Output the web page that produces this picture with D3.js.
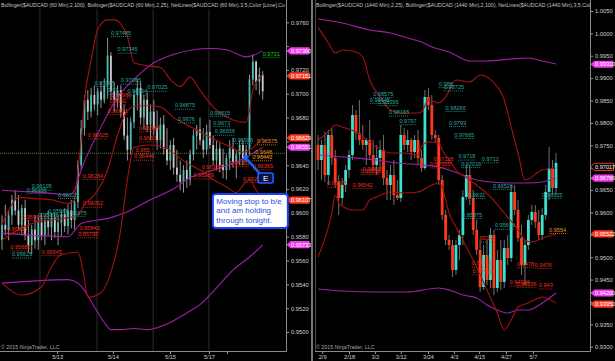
<!DOCTYPE html>
<html><head><meta charset="utf-8">
<script src="https://cdn.jsdelivr.net/npm/d3@7"></script>
<style>body{margin:0;background:#000;}svg{display:block}</style>
</head><body><svg id="c" width="615" height="361"></svg>
<script>
// ---------------- DATA ----------------
const leftHeader = "Bollinger($AUDCAD (60 Min),2,100), Bollinger($AUDCAD (60 Min),2,25), NetLines($AUDCAD (60 Min),3,5,Color [Lime],Co";
const rightHeader = "Bollinger($AUDCAD (1440 Min),2,25), Bollinger($AUDCAD (1440 Min),2,100), NetLines($AUDCAD (1440 Min),3,5,Col";
const copyright = "\u00A9 2015 NinjaTrader, LLC";

// 60 min candles [open, high, low, close]
const leftCandles = [
[.9577,.9598,.9569,.9590],[.9590,.9607,.9581,.9586],[.9586,.9602,.9577,.9598],[.9598,.9615,.9590,.9611],
[.9611,.9619,.9598,.9602],[.9602,.9615,.9586,.9590],[.9590,.9607,.9581,.9604],[.9604,.9611,.9577,.9581],
[.9581,.9594,.9567,.9573],[.9573,.9590,.9565,.9586],[.9586,.9598,.9570,.9577],[.9577,.9596,.9569,.9592],
[.9592,.9600,.9577,.9581],[.9581,.9598,.9573,.9594],[.9594,.9602,.9581,.9588],[.9588,.9600,.9577,.9596],
[.9596,.9600,.9579,.9584],[.9584,.9598,.9573,.9592],[.9592,.9602,.9580,.9599],[.9599,.9604,.9584,.9589],
[.9589,.9607,.9582,.9602],[.9602,.9611,.9587,.9594],[.9594,.9613,.9586,.9609],[.9609,.9644,.9604,.9640],
[.9640,.9678,.9636,.9671],[.9671,.9699,.9665,.9695],[.9695,.9703,.9678,.9685],[.9685,.9705,.9680,.9699],
[.9699,.9707,.9686,.9691],[.9691,.9705,.9682,.9702],[.9702,.9710,.9688,.9695],[.9695,.9713,.9692,.9707],
[.9707,.9747,.9696,.9732],[.9732,.9735,.9695,.9702],[.9702,.9710,.9685,.9695],[.9695,.9707,.9688,.9703],
[.9703,.9707,.9680,.9685],[.9685,.9691,.9661,.9665],[.9665,.9680,.9644,.9653],[.9653,.9680,.9649,.9676],
[.9676,.9703,.9671,.9699],[.9699,.9712,.9686,.9705],[.9705,.9710,.9674,.9680],[.9680,.9699,.9670,.9695],
[.9695,.9701,.9668,.9674],[.9674,.9691,.9661,.9685],[.9685,.9695,.9665,.9671],[.9671,.9686,.9653,.9661],
[.9661,.9680,.9654,.9674],[.9674,.9682,.9649,.9654],[.9654,.9671,.9640,.9644],[.9644,.9661,.9636,.9657],
[.9657,.9663,.9632,.9638],[.9638,.9653,.9626,.9632],[.9632,.9644,.9619,.9626],[.9626,.9640,.9617,.9636],
[.9636,.9644,.9621,.9628],[.9628,.9653,.9623,.9649],[.9649,.9670,.9644,.9665],[.9665,.9674,.9653,.9670],
[.9670,.9680,.9657,.9661],[.9661,.9671,.9646,.9653],[.9653,.9674,.9649,.9668],[.9668,.9678,.9654,.9657],
[.9657,.9665,.9640,.9644],[.9644,.9661,.9636,.9654],[.9654,.9659,.9634,.9640],[.9640,.9654,.9629,.9636],
[.9636,.9649,.9628,.9646],[.9646,.9661,.9636,.9654],[.9654,.9663,.9638,.9643],[.9643,.9653,.9629,.9649],
[.9649,.9661,.9640,.9657],[.9657,.9661,.9640,.9646],[.9646,.9657,.9643,.9653],[.9653,.9716,.9649,.9712],
[.9712,.9733,.9707,.9727],[.9727,.9728,.9703,.9710],[.9710,.9722,.9699,.9716],[.9716,.9719,.9695,.9702]
];
// Bollinger (2,25) 60 min : [bar index, value]
const leftBB25Upper = [[0,.9590],[2,.9602],[5,.9613],[10,.9612],[15,.9611],[20,.9608],[22,.9611],[23,.9636],[24,.9661],[25,.9695],[27,.9728],[29,.9754],[32,.9762],[34,.9762],[38,.9748],[40,.9726],[43,.9724],[48,.9722],[51,.9712],[54,.9706],[57,.9714],[60,.9703],[64,.9689],[70,.9678],[74,.9676],[75,.9686],[76,.9703],[79,.9716]];
const leftBB25Mid = [[0,.9577],[5,.9586],[10,.9592],[15,.9594],[20,.9596],[23,.9598],[25,.9607],[28,.9615],[32,.9636],[35,.9665],[38,.9686],[41,.9690],[45,.9690],[48,.9689],[52,.9680],[56,.9674],[62,.9665],[68,.9657],[73,.9651],[75,.9653],[79,.9663]];
const leftBB25Lower = [[0,.9541],[6,.9531],[12,.9538],[15,.9555],[18,.9565],[23,.9567],[25,.9544],[26,.9529],[30,.9533],[33,.9550],[36,.9586],[38,.9628],[40,.9655],[45,.9657],[50,.9654],[52,.9650],[56,.9642],[60,.9636],[64,.9628],[68,.9622],[71,.9617],[73,.9623],[75,.9628],[77,.9619],[79,.9611]];
// Bollinger (2,100) 60 min
const leftBB100Upper = [[0,.9619],[6,.9618],[13,.9617],[20,.9615],[22,.9619],[23,.9628],[30,.9672],[35,.9697],[40,.9712],[46,.9726],[52,.9733],[58,.9737],[63,.9738],[68,.9737],[74,.9731],[79,.9736]];
const leftBB100Mid = [[0,.9583],[20,.9580],[24,.9591],[33,.9596],[38,.9601],[45,.9611],[53,.9622],[56,.9628],[64,.9636],[72,.9644],[79,.9655]];
const leftBB100Lower = [[0,.9541],[20,.9544],[23,.9541],[25,.9535],[28,.9521],[31,.9508],[33,.9502],[36,.9502],[40,.9503],[44,.9502],[51,.9508],[56,.9516],[60,.9523],[65,.9537],[70,.9552],[75,.9563],[79,.9573]];
const leftHLines = [0.9650];
const leftYTicks = [0.9760,0.9740,0.9720,0.9700,0.9680,0.9660,0.9640,0.9620,0.9600,0.9580,0.9560,0.9540,0.9520,0.9500];
const leftDates = [[16.7,"5/13"],[33.6,"5/14"],[50.9,"5/15"],[62.7,"5/17"],[68.2,""]];
const leftGrid = [11.5,28.8,45.8,62.7];
const leftTags = [[0.97360,"m"],[0.97151,"r"],[0.96629,"r"],[0.96551,"m"],[0.96107,"r"],[0.95733,"m"]];
const leftCyanLabels = [[33,"0.97485"],[35,"0.97345"],[28,"0.97065"],[36,"0.97085"],[44,"0.97025"],[32,"0.97"],[38,"0.96994"],[52.4,"0.96875"],[53.3,"0.9676"],[63,"0.96815"],[64,"0.9673"],[64.5,"0.96656"],[70,"0.96586"],[9,"0.96195"],[7.5,"0.96166"],[17,"0.96125"],[11,"0.95955"],[14,"0.95985"],[19.5,"0.95975"],[3,"0.95625"]];
const leftRedLabels = [[33,"0.96966"],[32.5,"0.9691"],[32,"0.96831"],[26,"0.96625"],[41.5,"0.96685"],[41.5,"0.9660"],[40.5,"0.965"],[40,"0.96446"],[60.5,"0.96358"],[69,"0.96393"],[24.5,"0.96284"],[24.5,"0.96052"],[23.5,"0.95842"],[23,"0.95795"],[6,"0.95941"],[1.5,"0.95835"],[2.5,"0.95685"],[12,"0.95645"],[58,"0.96289"],[73,"0.9626"],[76,"0.96365"]];
const leftOrangeLabels = [[77.3,"0.96575"],[76.7,"0.9648"],[75.8,"0.96442"]];
const leftGreenLabels = [[79,"0.9731"]];

// 1440 min candles [open, high, low, close]
const rightCandles = [
[.97507,.97730,.96948,.97171],[.97171,.97618,.96725,.97507],[.97507,.97797,.96680,.96836],[.96836,.97842,.96613,.97730],
[.97730,.97886,.97060,.97216],[.97216,.97395,.96546,.96680],[.96680,.96836,.95942,.96322],[.96322,.96769,.96166,.96613],
[.96613,.97060,.96456,.96948],[.96948,.97395,.96769,.97283],[.97283,.98400,.97171,.98177],[.98177,.98288,.97618,.97775],
[.97775,.98512,.97507,.97618],[.97618,.97953,.97395,.97507],[.97507,.97663,.97060,.97618],[.97618,.98065,.97171,.97283],
[.97283,.97618,.96948,.97060],[.97060,.97507,.96836,.97216],[.97216,.97618,.96948,.97395],[.97395,.97730,.96613,.96769],
[.96769,.96948,.96278,.96613],[.96613,.97060,.96278,.96836],[.96836,.97171,.96166,.96389],[.96389,.96725,.96278,.96322],
[.96322,.97953,.96233,.97730],[.97730,.97886,.97395,.97507],[.97507,.97842,.97350,.97618],[.97618,.97663,.97171,.97350],
[.97350,.97730,.97216,.97618],[.97618,.97842,.97060,.97216],[.97216,.97395,.96903,.96993],[.96993,.98735,.96948,.98579],
[.98579,.98780,.98288,.98400],[.98400,.98623,.97618,.97730],[.97730,.97842,.97574,.97663],[.97663,.97730,.96613,.96725],
[.96725,.96836,.95831,.95942],[.95942,.96054,.95272,.95384],[.95384,.95496,.95161,.95272],[.95272,.95384,.94558,.94714],
[.94714,.95384,.94602,.95272],[.95272,.95608,.94937,.95496],[.95496,.96501,.95272,.96345],[.96345,.97060,.96278,.96836],
[.96836,.97060,.96166,.96322],[.96322,.96501,.95496,.95608],[.95608,.95831,.95049,.95161],[.95161,.95384,.94222,.94334],
[.94334,.95272,.94267,.95049],[.95049,.95384,.94379,.94490],[.94490,.95652,.94312,.95496],[.95496,.95608,.94155,.94312],
[.94312,.95161,.94222,.94937],[.94937,.95384,.94267,.94446],[.94446,.95384,.94312,.95205],[.95205,.95496,.94826,.94982],
[.94982,.96613,.94893,.96456],[.96456,.96613,.95942,.96054],[.96054,.96278,.95339,.95429],[.95429,.95719,.94602,.94826],
[.94826,.95384,.94379,.95272],[.95272,.95942,.95161,.95831],[.95831,.96166,.95719,.96010],[.96010,.96166,.95652,.95786],
[.95786,.96054,.95384,.95496],[.95496,.96099,.95384,.95942],[.95942,.96613,.95831,.96456],[.96456,.97462,.96278,.96993],
[.96993,.97171,.96389,.96546],[.96546,.97328,.96389,.97105]
];
const rightBB25Upper = [[0,1.0014],[3,.99785],[5,.99562],[7,.99629],[11,.99584],[13,.99472],[15,.98959],[18,.98579],[21,.98288],[24,.98221],[29,.98221],[30,.98244],[32,.98512],[35,.98445],[37,.98579],[40,.98959],[44,.98914],[47,.99070],[51,.98892],[54,.98512],[56,.97909],[58,.97328],[60,.96725],[65,.96948],[69,.96993]];
const rightBB25Mid = [[0,.97618],[3,.97797],[5,.97953],[7,.97909],[11,.97797],[13,.97685],[17,.97462],[21,.97328],[25,.97328],[29,.97283],[30,.97462],[32,.97574],[35,.97551],[36,.97395],[38,.97171],[40,.96948],[44,.96725],[50,.96345],[54,.95987],[58,.95607],[60,.95384],[62,.95339],[65,.95429],[69,.95518]];
const rightBB25Lower = [[0,.95004],[4,.95987],[5,.96389],[6,.96210],[8,.96099],[10,.96054],[13,.96054],[15,.96278],[17,.96345],[21,.96456],[25,.96434],[29,.96456],[33,.96613],[35,.96657],[36,.96568],[37,.96278],[38,.95987],[40,.95675],[43,.95228],[46,.94781],[49,.94267],[52,.93753],[54,.93374],[56,.93597],[58,.93888],[61,.93977],[64,.94089],[65,.94111],[69,.93977]];
const rightBB100Upper = [[0,1.00321],[7,1.00232],[15,1.00075],[21,1.00008],[26,.99897],[30,.99807],[33,.99696],[38,.99584],[44,.99383],[49,.99383],[56,.99427],[61,.99450],[65,.99383],[69,.99316]];
const rightBB100Mid = [[0,.97283],[7,.97238],[17,.97171],[23,.97105],[30,.97060],[35,.97015],[38,.96948],[42,.96836],[46,.96725],[50,.96680],[56,.96657],[61,.96657],[65,.96680],[69,.96769]];
const rightBB100Lower = [[0,.94290],[7,.94245],[17,.94223],[26,.94223],[35,.94312],[38,.94267],[42,.94155],[46,.94088],[49,.93932],[52,.93820],[55,.93753],[58,.93820],[61,.93820],[65,.93977],[69,.94200]];
const rightYTicks = [1.0050,1.0000,0.9950,0.9900,0.9850,0.9800,0.9750,0.9700,0.9650,0.9600,0.9550,0.9500,0.9450,0.9400,0.9350,0.9300];
const rightDates = [[1.2,"2/9"],[9,"2/18"],[16.5,"3/2"],[24,"3/12"],[31.9,"3/24"],[39.4,"4/3"],[46.7,"4/15"],[54.5,"4/27"],[62.3,"5/7"]];
const rightTags = [[0.99310,"m"],[0.97017,"o"],[0.96766,"m"],[0.95522,"r"],[0.94200,"m"],[0.93950,"r"]];
const rightCyanLabels = [[35,"0.988"],[36.5,"0.98725"],[16,"0.98575"],[15,"0.98445"],[17.5,"0.98395"],[20.6,"0.98165"],[37,"0.98266"],[23.6,"0.9797"],[38,"0.9793"],[39.5,"0.97665"],[40.7,"0.9718"],[41.5,"0.97016"],[47.5,"0.9712"],[50.7,"0.96526"],[43.5,"0.9632"],[41.7,"0.95875"],[51.3,"0.95636"],[65,"0.96325"]];
const rightRedLabels = [[2.6,"0.96575"],[10,"0.96542"],[13,"0.96895"],[12.3,"0.96856"],[33.5,"0.97118"],[32.5,"0.97005"],[45.5,"0.95349"],[44.6,"0.94786"],[44.8,"0.94619"],[57.7,"0.9478"],[62.8,"0.9476"],[55.5,"0.94366"],[57.5,"0.94336"],[64,"0.943"]];
const rightOrangeLabels = [[67,"0.9554"]];

// annotation (anchored on the 60 min chart: bar index, price)
const noteLines = ["Moving stop to b/e","and am holding","through tonight."];
const noteAnchor = [63.9, 0.96158];
const entryLabel = "E";
const entryAnchor = [77.6, 0.96335];
const arrowTip = [73.0, 0.9649];

// ---------------- DRAW ----------------
const svg = d3.select("#c");
const FONT = "'Liberation Sans', Arial, sans-serif";
svg.append("rect").attr("width",615).attr("height",361).attr("fill","#000");
const defs = svg.append("defs");
defs.append("clipPath").attr("id","clipL").append("rect").attr("x",0).attr("y",0).attr("width",286).attr("height",351);
defs.append("clipPath").attr("id","clipR").append("rect").attr("x",315).attr("y",0).attr("width",276).attr("height",351);

const xL = d3.scaleLinear().domain([0,79]).range([2,262.7]);
const yL = d3.scaleLinear().domain([0.9500,0.9760]).range([332,22.3]);
const xR = d3.scaleLinear().domain([0,69]).range([318,556]);
const yR = d3.scaleLinear().domain([0.9300,1.0050]).range([346.7,11]);

const RED25 = "#a81010", MAG = "#a020a8";

function panel(o){
  const g = svg.append("g").attr("clip-path",`url(#${o.clip})`);
  // header
  g.append("text").attr("x",o.left+1).attr("y",6.5).text(o.header)
    .attr("fill","#c4c4c4").style("font-family",FONT).style("font-size","5.6px")
    .attr("textLength",o.headerLen).attr("lengthAdjust","spacingAndGlyphs");
  // grid
  g.selectAll(null).data(o.grid).join("line")
    .attr("x1",d=>o.x(d)).attr("x2",d=>o.x(d)).attr("y1",9).attr("y2",351)
    .attr("stroke","#3a3a3a").attr("stroke-width",0.8);
  // horizontal net lines
  g.selectAll(null).data(o.hlines).join("line")
    .attr("x1",o.left).attr("x2",o.right).attr("y1",d=>o.y(d)).attr("y2",d=>o.y(d))
    .attr("stroke","#4d7a22").attr("stroke-width",1).attr("stroke-dasharray","1,1");
  // candles
  const cg = g.append("g");
  cg.selectAll("line").data(o.candles).join("line")
    .attr("x1",(d,i)=>o.x(i)).attr("x2",(d,i)=>o.x(i))
    .attr("y1",d=>o.y(d[1])).attr("y2",d=>o.y(d[2]))
    .attr("stroke",o.wick).attr("stroke-width",0.8);
  cg.selectAll("rect").data(o.candles).join("rect")
    .attr("x",(d,i)=>o.x(i)-o.bw/2).attr("width",o.bw)
    .attr("y",d=>o.y(Math.max(d[0],d[3])))
    .attr("height",d=>Math.max(1,Math.abs(o.y(d[0])-o.y(d[3]))))
    .attr("fill",d=>d[3]>=d[0]?o.up:o.down);
  // bands
  const line = d3.line().x(d=>o.x(d[0])).y(d=>o.y(d[1])).curve(d3.curveMonotoneX);
  o.bands.forEach(b=>{
    g.append("path").attr("d",line(b.data)).attr("fill","none")
      .attr("stroke",b.color).attr("stroke-width",1.1);
  });
  // net line labels
  o.labels.forEach(set=>{
    set.data.forEach(([i,t])=>{
      const px=o.x(i), py=o.y(+t);
      const tx = g.append("text").attr("x",px).attr("y",py-1.3).text(t)
        .attr("fill",set.color).style("font-family",FONT).style("font-size","5.6px");
      const w = tx.node().getComputedTextLength();
      g.append("line").attr("x1",px).attr("x2",px+w).attr("y1",py+0.5).attr("y2",py+0.5)
        .attr("stroke",set.color).attr("stroke-width",0.8).attr("stroke-dasharray","1,1");
    });
  });
  // copyright
  g.append("text").attr("x",o.left+1).attr("y",349).text(copyright)
    .attr("fill","#a8a8a8").style("font-family",FONT).style("font-size","5.3px");

  // y axis (tick labels hidden where a price tag covers them)
  const covered = v => o.tags.some(([tv])=>Math.abs(o.y(tv)-o.y(v))<5);
  const ax = svg.append("g").attr("transform",`translate(${o.right},0)`)
    .call(d3.axisRight(o.y).tickValues(o.yTicks).tickFormat(v=>covered(v)?"":d3.format(".4f")(v)).tickSize(3).tickPadding(2));
  ax.select(".domain").remove();
  ax.selectAll("line").attr("stroke","#9a9a9a");
  ax.selectAll("text").attr("fill","#cfcfcf").style("font-family",FONT).style("font-size","5.8px");
  svg.append("line").attr("x1",o.right+0.5).attr("x2",o.right+0.5).attr("y1",0).attr("y2",351.5)
    .attr("stroke","#8a8a8a").attr("stroke-width",1);
  // x axis
  const bx = svg.append("g").attr("transform","translate(0,351)")
    .call(d3.axisBottom(o.x).tickValues(o.dates.map(d=>d[0])).tickFormat((d,k)=>o.dates[k][1]).tickSize(3).tickPadding(1));
  bx.select(".domain").remove();
  bx.selectAll("line").attr("stroke","#9a9a9a");
  bx.selectAll("text").attr("fill","#cfcfcf").style("font-family",FONT).style("font-size","5.6px");
  svg.append("line").attr("x1",o.left).attr("x2",o.right+0.5).attr("y1",351.5).attr("y2",351.5)
    .attr("stroke","#8a8a8a").attr("stroke-width",1);
  // tags
  o.tags.forEach(([v,k])=>{
    const y=o.y(v), x0=o.right+0.5;
    const fill = k==="m" ? "#f03cf0" : (k==="r" ? "#ff3a22" : "#000");
    svg.append("path").attr("d",`M${x0},${y} L${x0+4},${y-3.6} L${x0+23},${y-3.6} L${x0+23},${y+3.6} L${x0+4},${y+3.6} Z`)
      .attr("fill",fill).attr("stroke",k==="o"?"#ff4020":"none").attr("stroke-width",0.9);
    svg.append("text").attr("x",x0+4.5).attr("y",y+2).text(v.toFixed(5))
      .attr("fill","#fff").style("font-family",FONT).style("font-size","5.6px");
  });
}

panel({clip:"clipL", left:0, right:286, x:xL, y:yL, header:leftHeader, headerLen:284,
  grid:leftGrid, hlines:leftHLines, candles:leftCandles, bw:1.8, up:"#49bfb0", down:"#c9c9c9", wick:"#b8b8b8",
  bands:[{data:leftBB100Upper,color:MAG},{data:leftBB100Mid,color:MAG},{data:leftBB100Lower,color:MAG},
         {data:leftBB25Upper,color:RED25},{data:leftBB25Mid,color:RED25},{data:leftBB25Lower,color:RED25}],
  labels:[{data:leftCyanLabels,color:"#2aa89c"},{data:leftRedLabels,color:"#e8301c"},
          {data:leftOrangeLabels,color:"#e89018"},{data:leftGreenLabels,color:"#18d018"}],
  yTicks:leftYTicks, dates:leftDates, tags:leftTags});

panel({clip:"clipR", left:315, right:590, x:xR, y:yR, header:rightHeader, headerLen:274,
  grid:[], hlines:[], candles:rightCandles, bw:2.8, up:"#3ee0d0", down:"#ff3a1a", wick:"#8c8c8c",
  bands:[{data:rightBB100Upper,color:MAG},{data:rightBB100Mid,color:MAG},{data:rightBB100Lower,color:MAG},
         {data:rightBB25Upper,color:RED25},{data:rightBB25Mid,color:RED25},{data:rightBB25Lower,color:RED25}],
  labels:[{data:rightCyanLabels,color:"#2aa89c"},{data:rightRedLabels,color:"#e8301c"},{data:rightOrangeLabels,color:"#e89018"}],
  yTicks:rightYTicks, dates:rightDates, tags:rightTags});

// panel separators
svg.append("rect").attr("x",311).attr("y",0).attr("width",2).attr("height",361).attr("fill","#787878");
svg.append("line").attr("x1",315.5).attr("x2",315.5).attr("y1",0).attr("y2",351).attr("stroke","#4a4a4a");

// annotation: callout
const nx = xL(noteAnchor[0]), ny = yL(noteAnchor[1]);
svg.append("rect").attr("x",nx).attr("y",ny).attr("width",75).attr("height",34).attr("rx",3)
  .attr("fill","#fff").attr("stroke","#1640ff").attr("stroke-width",2);
noteLines.forEach((t,k)=>{
  svg.append("text").attr("x",nx+3.5).attr("y",ny+9.5+k*9.5).text(t)
    .attr("fill","#2a4ee8").style("font-family",FONT).style("font-size","8px");
});
// arrow from E box
const ex = xL(entryAnchor[0]), ey = yL(entryAnchor[1]);
const tx = xL(arrowTip[0]), ty = yL(arrowTip[1]);
const ang = Math.atan2(ty-(ey+1), tx-(ex+2));
const bx0 = tx - 6*Math.cos(ang), by0 = ty - 6*Math.sin(ang);
svg.append("line").attr("x1",ex+2).attr("y1",ey+1).attr("x2",bx0).attr("y2",by0)
  .attr("stroke","#2060ff").attr("stroke-width",2.4);
const pa = ang+Math.PI/2;
svg.append("path").attr("d",`M${tx},${ty} L${bx0+3.5*Math.cos(pa)},${by0+3.5*Math.sin(pa)} L${bx0-3.5*Math.cos(pa)},${by0-3.5*Math.sin(pa)} Z`)
  .attr("fill","#2060ff");
svg.append("rect").attr("x",ex).attr("y",ey).attr("width",15).attr("height",10).attr("rx",2)
  .attr("fill","#0a1440").attr("stroke","#2a5cff").attr("stroke-width",1.6);
svg.append("text").attr("x",ex+7.5).attr("y",ey+8).attr("text-anchor","middle").text(entryLabel)
  .attr("fill","#fff").style("font-family",FONT).style("font-size","8px");
</script>
</body></html>
